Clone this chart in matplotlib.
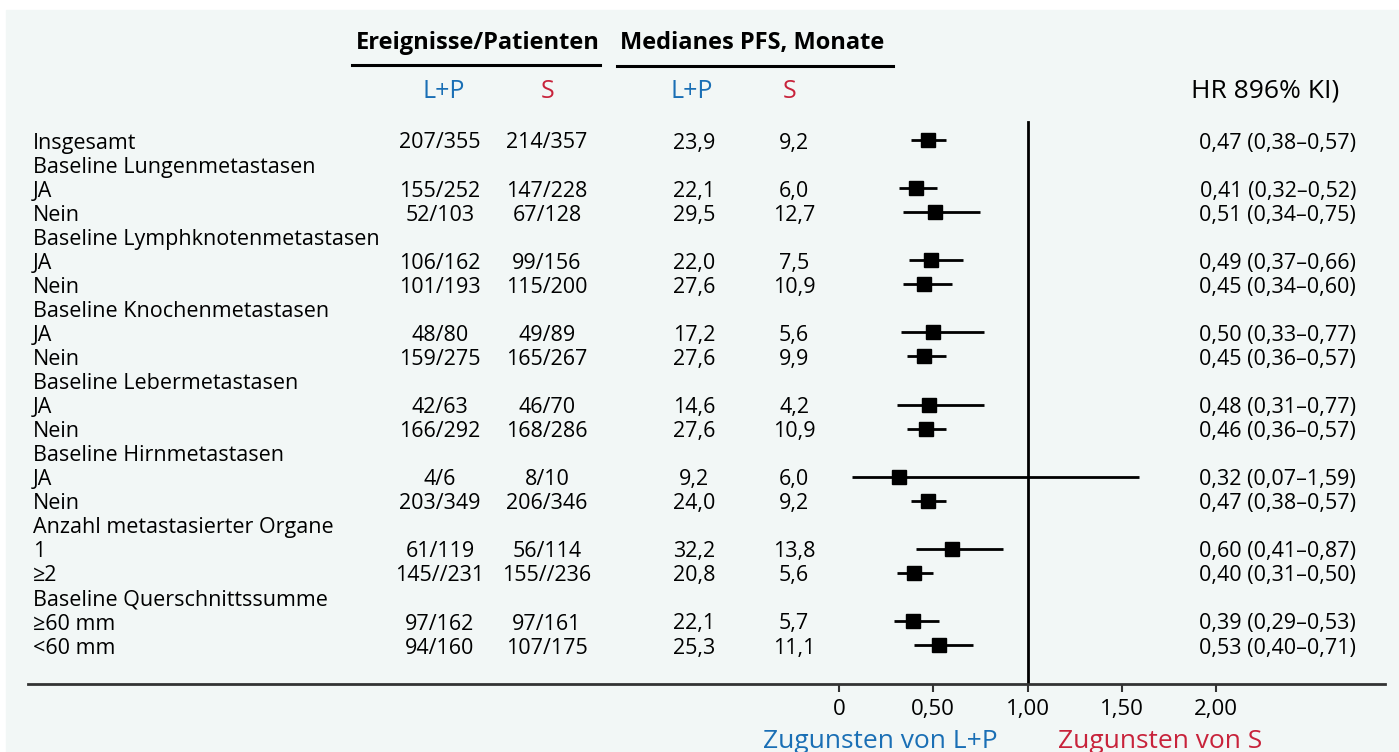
import numpy as np
import matplotlib
matplotlib.use("Agg")
from matplotlib import pyplot as plt
from matplotlib import transforms
from matplotlib.patches import Rectangle

plt.rcParams.update({
    "font.family": ["Open Sans", "DejaVu Sans"],
    "font.size": 15.5,
    "axes.unicode_minus": False,
})

# ---- data ----
labels = ["Insgesamt", "Baseline Lungenmetastasen", "JA", "Nein",
          "Baseline Lymphknotenmetastasen", "JA", "Nein",
          "Baseline Knochenmetastasen", "JA", "Nein",
          "Baseline Lebermetastasen", "JA", "Nein",
          "Baseline Hirnmetastasen", "JA", "Nein",
          "Anzahl metastasierter Organe", "1", "≥2",
          "Baseline Querschnittssumme", "≥60 mm", "<60 mm"]
events_lp = ["207/355", "", "155/252", "52/103", "", "106/162", "101/193",
             "", "48/80", "159/275", "", "42/63", "166/292", "", "4/6",
             "203/349", "", "61/119", "145//231", "", "97/162", "94/160"]
events_s = ["214/357", "", "147/228", "67/128", "", "99/156", "115/200",
            "", "49/89", "165/267", "", "46/70", "168/286", "", "8/10",
            "206/346", "", "56/114", "155//236", "", "97/161", "107/175"]
pfs_lp = ["23,9", "", "22,1", "29,5", "", "22,0", "27,6", "", "17,2", "27,6",
          "", "14,6", "27,6", "", "9,2", "24,0", "", "32,2", "20,8", "",
          "22,1", "25,3"]
pfs_s = ["9,2", "", "6,0", "12,7", "", "7,5", "10,9", "", "5,6", "9,9", "",
         "4,2", "10,9", "", "6,0", "9,2", "", "13,8", "5,6", "", "5,7", "11,1"]
nan = np.nan
hr = [0.47, nan, 0.41, 0.51, nan, 0.49, 0.45, nan, 0.50, 0.45, nan,
      0.48, 0.46, nan, 0.32, 0.47, nan, 0.60, 0.40, nan, 0.39, 0.53]
ci_lo = [0.38, nan, 0.32, 0.34, nan, 0.37, 0.34, nan, 0.33, 0.36, nan,
         0.31, 0.36, nan, 0.07, 0.38, nan, 0.41, 0.31, nan, 0.29, 0.40]
ci_hi = [0.57, nan, 0.52, 0.75, nan, 0.66, 0.60, nan, 0.77, 0.57, nan,
         0.77, 0.57, nan, 1.59, 0.57, nan, 0.87, 0.50, nan, 0.53, 0.71]
xticks = [0, 0.5, 1.0, 1.5, 2.0]
xtick_labels = ["0", "0,50", "1,00", "1,50", "2,00"]

BLUE = "#1a6fb5"
RED = "#c8233b"
W, H = 1399, 752

fig = plt.figure(figsize=(W / 100, H / 100), dpi=100)
fig.patch.set_facecolor("white")
fig.patches.append(Rectangle((6 / W, 0), (1398 - 6) / W, 1 - 10 / H,
                             transform=fig.transFigure, color="#f2f7f6",
                             zorder=-10))

# axes: left 28px, right 1385px, bottom at y=684px, top at 0
ax = fig.add_axes([28 / W, (H - 684) / H, (1385 - 28) / W, 684 / H])
ax.set_facecolor("none")
px_per_unit = 188.5
x0 = 839
ax.set_xlim((28 - x0) / px_per_unit, (1385 - x0) / px_per_unit)
row0, step = 140, 24.05
ax.set_ylim((684 - row0) / step, (0 - row0) / step)

def py(p):
    return (p - row0) / step

y = np.arange(len(labels))
hr_a, lo_a, hi_a = np.array(hr), np.array(ci_lo), np.array(ci_hi)
ax.hlines(y, lo_a, hi_a, color="black", lw=2, zorder=3)
ax.plot(hr_a, y, "s", color="black", ms=9.5, zorder=4)
ax.plot([1, 1], [py(122), ax.get_ylim()[0]], color="black", lw=2, zorder=2)

for s in ["top", "right", "left"]:
    ax.spines[s].set_visible(False)
ax.spines["bottom"].set_color("#333333")
ax.spines["bottom"].set_linewidth(2)
ax.set_yticks([])
ax.set_xticks(xticks)
ax.set_xticklabels(xtick_labels, fontsize=16)
ax.tick_params(axis="x", direction="out", length=6, width=1.5,
               color="#333333", pad=5)

# table text: x in figure pixels, y in rows (nudged ~3px down)
tr = transforms.blended_transform_factory(fig.transFigure, ax.transData)
nudge = 3 / step

def tx(xp, yrow, s, **kw):
    ax.text(xp / W, yrow + nudge, s, transform=tr, va="center",
            clip_on=False, **kw)

for i, lab in enumerate(labels):
    tx(33, i, lab, ha="left")
    tx(440, i, events_lp[i], ha="center")
    tx(547, i, events_s[i], ha="center")
    tx(694, i, pfs_lp[i], ha="center")
    tx(794, i, pfs_s[i], ha="center")
    if not np.isnan(hr[i]):
        s = f"{hr[i]:.2f} ({ci_lo[i]:.2f}–{ci_hi[i]:.2f})".replace(".", ",")
        tx(1356, i, s, ha="right")

# headers
tx(478, py(40), "Ereignisse/Patienten", ha="center", fontsize=17,
   fontweight="bold")
tx(752, py(40), "Medianes PFS, Monate", ha="center", fontsize=17,
   fontweight="bold")
ax.plot([352 / W, 600 / W], [py(65), py(65)], transform=tr, color="black",
        lw=2.2, clip_on=False)
ax.plot([617 / W, 893 / W], [py(66), py(66)], transform=tr, color="black",
        lw=2.2, clip_on=False)
tx(444, py(88), "L+P", ha="center", color=BLUE, fontsize=18)
tx(548, py(88), "S", ha="center", color=RED, fontsize=18)
tx(692, py(88), "L+P", ha="center", color=BLUE, fontsize=18)
tx(790, py(88), "S", ha="center", color=RED, fontsize=18)
tx(1265, py(88), "HR 896% KI)", ha="center", fontsize=19)

# favour labels
fig.text(880 / W, 1 - 742 / H, "Zugunsten von L+P", ha="center",
         va="center", color=BLUE, fontsize=19)
fig.text(1160 / W, 1 - 742 / H, "Zugunsten von S", ha="center",
         va="center", color=RED, fontsize=19)

fig.savefig("out.png", dpi=100)
